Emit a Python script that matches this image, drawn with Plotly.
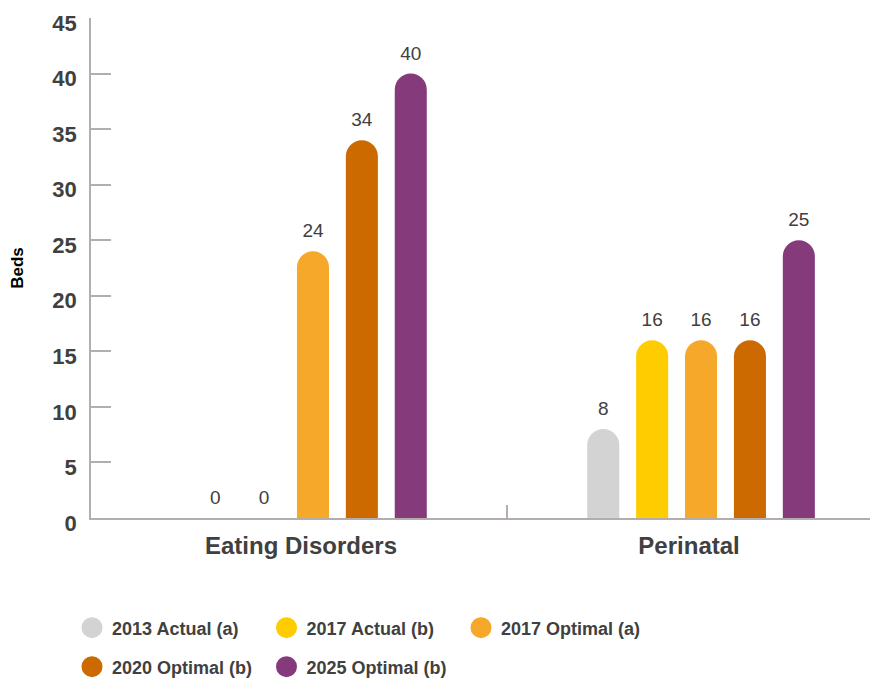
import plotly.graph_objects as go

# ---- data ----
categories = ["Eating Disorders", "Perinatal"]
series_names = ["2013 Actual (a)", "2017 Actual (b)", "2017 Optimal (a)",
                "2020 Optimal (b)", "2025 Optimal (b)"]
actual_2013 = [0, 8]
actual_2017 = [0, 16]
optimal_2017 = [24, 16]
optimal_2020 = [34, 16]
optimal_2025 = [40, 25]
y_tick_values = [0, 5, 10, 15, 20, 25, 30, 35, 40, 45]
y_title = "Beds"

# ---- style ----
colors = ["#d3d3d3", "#ffcc00", "#f5a829", "#cc6a00", "#843a7b"]
axis_color = "#b3adad"
text_color = "#404040"
FONT = "Arial, 'Liberation Sans', sans-serif"

# page body has an 8px margin, so the figure is 8px smaller each way
W, H = 870, 672

series_values = [actual_2013, actual_2017, optimal_2017, optimal_2020, optimal_2025]
xpos = list(range(len(categories)))

fig = go.Figure()

# bars
for name, vals, col in zip(series_names, series_values, colors):
    fig.add_trace(go.Bar(
        x=xpos, y=vals, name=name,
        marker=dict(color=col, cornerradius="50%", line=dict(width=0)),
        showlegend=False,
        hovertemplate=name + ": %{y}<extra></extra>",
    ))

# value labels (grouped scatter aligned with the bars)
for name, vals, col in zip(series_names, series_values, colors):
    fig.add_trace(go.Scatter(
        x=xpos, y=vals, mode="markers+text",
        text=[str(v) for v in vals],
        textposition="top center",
        textfont=dict(size=19, color=text_color, family=FONT),
        marker=dict(size=13, opacity=0, color=col),
        showlegend=False, hoverinfo="skip", cliponaxis=False,
    ))

# legend entries (circles), on an invisible overlay subplot
for i, (name, col) in enumerate(zip(series_names, colors)):
    fig.add_trace(go.Scatter(
        x=[None], y=[None], mode="markers", name=name,
        marker=dict(symbol="circle", size=16, color=col, line=dict(color=col, width=5)),
        xaxis="x2", yaxis="y2",
        legend="legend" if i < 3 else "legend2",
        hoverinfo="skip",
    ))

legend_common = dict(
    orientation="h", xref="container", yref="container",
    xanchor="left", yanchor="middle",
    entrywidth=149.5, entrywidthmode="pixels",
    font=dict(size=18, color=text_color, family=FONT, weight="bold"),
    bgcolor="rgba(0,0,0,0)", borderwidth=0, valign="middle",
    itemclick=False, itemdoubleclick=False,
)

fig.update_layout(
    width=W, height=H,
    margin=dict(l=83, r=0, t=10, b=162, autoexpand=False),
    paper_bgcolor="white", plot_bgcolor="white",
    font=dict(family=FONT, color=text_color),
    barmode="group", bargap=0.37, bargroupgap=0.345,
    scattermode="group", scattergap=0.37,
    xaxis=dict(
        range=[-0.572, 1.456], tickmode="array", tickvals=xpos, ticktext=categories,
        ticks="", showline=True, linecolor=axis_color, linewidth=1.5,
        showgrid=False, zeroline=False,
        tickfont=dict(size=24, color=text_color, family=FONT, weight="bold"),
        ticklabelstandoff=5, ticklabelshift=-12,
        minor=dict(tickmode="array", tickvals=[0.5], ticks="inside", ticklen=13,
                   tickcolor=axis_color, tickwidth=1.5, showgrid=False),
        fixedrange=True,
    ),
    yaxis=dict(
        range=[0, 45], tickmode="array", tickvals=y_tick_values,
        ticks="inside", ticklen=20, tickcolor=axis_color, tickwidth=1.5,
        showline=True, linecolor=axis_color, linewidth=1.5,
        showgrid=False, zeroline=False,
        tickfont=dict(size=22, color=text_color, family=FONT, weight="bold"),
        ticklabelstandoff=8, ticklabelshift=5,
        title=dict(text=y_title, font=dict(size=17, color="#000000", family=FONT, weight="bold"),
                   standoff=26),
        fixedrange=True,
    ),
    xaxis2=dict(overlaying="x", visible=False),
    yaxis2=dict(overlaying="y", visible=False),
    legend=dict(legend_common, x=64 / W, y=1 - 620 / H),
    legend2=dict(legend_common, x=64 / W, y=1 - 659 / H),
)

fig.write_html("out.html")
